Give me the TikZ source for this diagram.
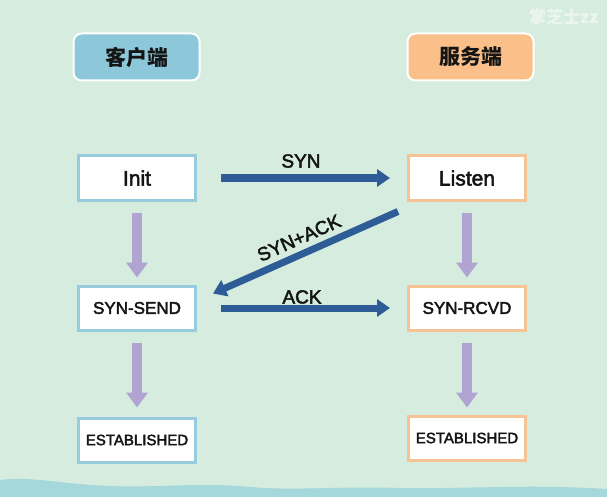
\documentclass[tikz,border=0pt]{standalone}
\usepackage{fontspec}
\setmainfont{Liberation Sans}
\newfontfamily\medfont{Liberation Sans}[FakeBold=2.5]
\newfontfamily\cjk{Noto Sans CJK SC}
\usetikzlibrary{arrows.meta}
\definecolor{bgmint}{RGB}{213,236,222}
\definecolor{hdrblue}{RGB}{140,200,218}
\definecolor{hdrorange}{RGB}{251,192,138}
\definecolor{brdblue}{RGB}{150,204,222}
\definecolor{brdorange}{RGB}{246,196,148}
\definecolor{msgblue}{RGB}{46,92,150}
\definecolor{lav}{RGB}{178,164,210}
\definecolor{waveteal}{RGB}{164,216,218}
\definecolor{txt}{RGB}{20,20,20}
\tikzset{
  header/.style={rounded corners=8pt, draw=white, line width=2pt, minimum width=126pt, minimum height=47pt, inner sep=0pt, text=txt, font=\cjk\bfseries\fontsize{21}{21}\selectfont},
  statebox/.style={fill=white, line width=3pt, minimum width=117pt, minimum height=44pt, inner sep=0pt, text=txt},
  cli/.style={statebox, draw=brdblue},
  srv/.style={statebox, draw=brdorange},
  msg/.style={draw=msgblue, line width=7pt, -{Triangle[width=17pt,length=13pt]}},
  stepdown/.style={draw=lav, line width=10pt, -{Triangle[width=21pt,length=15pt]}},
  msglabel/.style={text=txt, font=\medfont\fontsize{19}{19}\selectfont, inner sep=0pt}
}
\begin{document}
\begin{tikzpicture}[x=1pt,y=-1pt]
\useasboundingbox (0,0) rectangle (607,497);
\begin{scope}
\clip (0,0) rectangle (607,497);
\fill[bgmint] (0,0) rectangle (607,497);
\fill[waveteal] (0,497) -- (0,480) .. controls (30,476) and (60,484) .. (110,486)
  .. controls (160,488) and (200,482) .. (250,487)
  .. controls (300,491) and (330,486) .. (400,488)
  .. controls (470,489) and (530,484) .. (607,489) -- (607,497) -- cycle;
\node[text=white, opacity=0.55, font=\cjk\bfseries\fontsize{17}{17}\selectfont, anchor=west, inner sep=0pt] (wm) at (529,17) {掌芝士zz};
\end{scope}

\node[header, fill=hdrblue] (client) at (136.5,57) {客户端};
\node[header, fill=hdrorange] (server) at (470.5,57) {服务端};

\node[cli, font=\medfont\fontsize{21}{21}\selectfont] (init) at (137,178) {Init};
\node[srv, font=\medfont\fontsize{21}{21}\selectfont] (listen) at (467,178) {Listen};
\node[cli, font=\medfont\fontsize{17}{17}\selectfont] (synsend) at (137,308) {SYN-SEND};
\node[srv, font=\medfont\fontsize{17}{17}\selectfont] (synrcvd) at (467,308) {SYN-RCVD};
\node[cli, font=\medfont\fontsize{15}{15}\selectfont] (estc) at (137,440) {ESTABLISHED};
\node[srv, font=\medfont\fontsize{15}{15}\selectfont] (ests) at (467,438) {ESTABLISHED};

\draw[msg] ([xshift=24pt]init.east) -- ([xshift=-17pt]listen.west);
\draw[msg] ([xshift=24pt]synsend.east) -- ([xshift=-17pt]synrcvd.west);
\draw[msg] ([shift={(-9,10)}]listen.south west) -- ([shift={(16,9)}]synsend.north east);

\draw[stepdown] ([yshift=-11pt]init.south) -- ([yshift=7pt]synsend.north);
\draw[stepdown] ([yshift=-11pt]listen.south) -- ([yshift=7pt]synrcvd.north);
\draw[stepdown] ([yshift=-11pt]synsend.south) -- ([yshift=9pt]estc.north);
\draw[stepdown] ([yshift=-11pt]synrcvd.south) -- ([yshift=7pt]ests.north);

\node[msglabel] (lsyn) at (301,161) {SYN};
\node[msglabel] (lack) at (302,297) {ACK};
\node[msglabel, rotate=24] (lsynack) at (299,238) {SYN+ACK};
\end{tikzpicture}
\end{document}
